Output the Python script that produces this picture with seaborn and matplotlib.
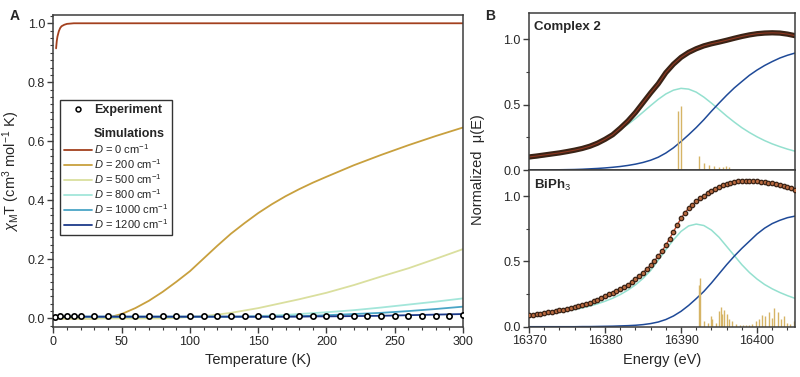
import numpy as np
import pandas as pd
import matplotlib
matplotlib.use("Agg")
import matplotlib.pyplot as plt
import seaborn as sns
from matplotlib.lines import Line2D
from matplotlib.ticker import MultipleLocator

sns.set_style("ticks")
plt.rcParams['font.family'] = ['Liberation Sans', 'DejaVu Sans']
plt.rcParams['mathtext.fontset'] = 'custom'
plt.rcParams['mathtext.rm'] = 'Liberation Sans'
plt.rcParams['mathtext.it'] = 'Liberation Sans:italic'

# --- panel A data: chi_M T vs temperature ---
t_d0 = [2, 2.5, 3, 4, 5, 6, 8, 10, 15, 20, 50, 100, 200, 300]
chi_d0 = [0.915, 0.94, 0.955, 0.973, 0.984, 0.99, 0.995, 0.998, 1.0, 1.0, 1.0, 1.0, 1.0, 1.0]

t_sim = [2, 10, 20, 30, 40, 50, 60, 70, 80, 90, 100, 110, 120, 130, 140, 150,
         160, 170, 180, 190, 200, 220, 240, 260, 280, 300]
chi_d200 = [0, 0, 0, 0, 0.003, 0.015, 0.035, 0.06, 0.09, 0.124, 0.16, 0.203, 0.246,
            0.287, 0.323, 0.357, 0.387, 0.414, 0.438, 0.46, 0.48, 0.519, 0.554, 0.587,
            0.618, 0.647]
chi_d500 = [0, 0, 0, 0, 0, 0, 0, 0, 0, 0.002, 0.005, 0.008, 0.013, 0.019, 0.027, 0.035,
            0.045, 0.055, 0.065, 0.076, 0.087, 0.113, 0.142, 0.17, 0.202, 0.235]
chi_d800 = [0.006, 0.006, 0.006, 0.006, 0.006, 0.006, 0.006, 0.006, 0.006, 0.006, 0.006,
            0.006, 0.006, 0.006, 0.007, 0.008, 0.01, 0.012, 0.015, 0.018, 0.021, 0.028,
            0.037, 0.047, 0.057, 0.068]
chi_d1000 = [0.006, 0.006, 0.006, 0.006, 0.006, 0.006, 0.006, 0.006, 0.006, 0.006, 0.006,
             0.006, 0.006, 0.006, 0.006, 0.006, 0.006, 0.007, 0.008, 0.009, 0.011, 0.015,
             0.019, 0.025, 0.032, 0.04]
chi_d1200 = [0.006, 0.006, 0.006, 0.006, 0.006, 0.006, 0.006, 0.006, 0.006, 0.006, 0.006,
             0.006, 0.006, 0.006, 0.006, 0.006, 0.006, 0.006, 0.006, 0.007, 0.007, 0.008,
             0.009, 0.011, 0.013, 0.015]

t_exp = [1, 5, 10, 15, 20, 30, 40, 50, 60, 70, 80, 90, 100, 110, 120, 130, 140, 150,
         160, 170, 180, 190, 200, 210, 220, 230, 240, 250, 260, 270, 280, 290, 300]
chi_exp = [0.006, 0.007, 0.007, 0.007, 0.007, 0.007, 0.007, 0.007, 0.007, 0.007, 0.007,
           0.007, 0.007, 0.007, 0.007, 0.007, 0.007, 0.007, 0.007, 0.007, 0.007, 0.007,
           0.008, 0.008, 0.008, 0.008, 0.009, 0.009, 0.009, 0.01, 0.01, 0.01, 0.011]

sim_labels = ["0", "200", "500", "800", "1000", "1200"]
sim_colors = ["#a3401e", "#c8a03e", "#dadf9e", "#a3e6da", "#4aa5c6", "#1c3a8a"]

# --- panel B data: normalized XANES ---
e_grid = list(range(16370, 16406))
c2_data = [0.10, 0.107, 0.115, 0.123, 0.131, 0.141, 0.152, 0.165, 0.182, 0.205, 0.235,
           0.27, 0.32, 0.375, 0.44, 0.515, 0.59, 0.66, 0.745, 0.81, 0.862, 0.9, 0.928,
           0.95, 0.966, 0.979, 0.993, 1.008, 1.022, 1.034, 1.043, 1.048, 1.05, 1.048,
           1.04, 1.028]
c2_peak = [0.087, 0.094, 0.103, 0.113, 0.125, 0.138, 0.154, 0.171, 0.191, 0.215, 0.241,
           0.273, 0.309, 0.349, 0.394, 0.443, 0.493, 0.541, 0.582, 0.611, 0.625, 0.619,
           0.596, 0.558, 0.512, 0.463, 0.413, 0.367, 0.324, 0.287, 0.254, 0.225, 0.2,
           0.179, 0.16, 0.144]
c2_edge = [0.0, 0.0, 0.0, 0.001, 0.002, 0.003, 0.004, 0.006, 0.009, 0.012, 0.016, 0.021,
           0.027, 0.035, 0.045, 0.058, 0.075, 0.098, 0.13, 0.17, 0.218, 0.27, 0.325,
           0.385, 0.45, 0.512, 0.572, 0.628, 0.677, 0.725, 0.765, 0.8, 0.83, 0.857,
           0.878, 0.895]
c2_stick_e = [16389.6, 16389.95, 16392.4, 16393.0, 16393.7, 16394.3, 16395.0, 16395.5,
              16395.9, 16396.3]
c2_stick_h = [0.45, 0.49, 0.105, 0.05, 0.04, 0.033, 0.023, 0.022, 0.028, 0.026]

e_half = [16370 + 0.5 * i for i in range(71)]
bi_data = [0.087, 0.091, 0.095, 0.100, 0.105, 0.110, 0.115, 0.120, 0.125, 0.130, 0.136,
           0.142, 0.149, 0.156, 0.164, 0.172, 0.183, 0.194, 0.207, 0.220, 0.233, 0.247,
           0.261, 0.276, 0.290, 0.305, 0.322, 0.342, 0.365, 0.390, 0.415, 0.443, 0.473,
           0.505, 0.540, 0.580, 0.625, 0.675, 0.728, 0.780, 0.830, 0.873, 0.907, 0.935,
           0.960, 0.983, 1.004, 1.022, 1.040, 1.055, 1.070, 1.084, 1.095, 1.103, 1.109,
           1.113, 1.116, 1.117, 1.117, 1.116, 1.114, 1.111, 1.108, 1.104, 1.100, 1.095,
           1.088, 1.080, 1.070, 1.060, 1.050]
bi_peak = [0.085, 0.091, 0.098, 0.105, 0.113, 0.122, 0.132, 0.144, 0.158, 0.175, 0.195,
           0.218, 0.246, 0.28, 0.32, 0.37, 0.43, 0.51, 0.59, 0.665, 0.73, 0.772, 0.786,
           0.775, 0.74, 0.685, 0.615, 0.545, 0.475, 0.415, 0.365, 0.323, 0.29, 0.262,
           0.238, 0.217]
bi_edge = [0, 0, 0, 0, 0, 0, 0, 0.001, 0.001, 0.002, 0.003, 0.004, 0.006, 0.008, 0.011,
           0.016, 0.024, 0.036, 0.055, 0.082, 0.118, 0.163, 0.215, 0.27, 0.335, 0.405,
           0.475, 0.54, 0.6, 0.655, 0.71, 0.755, 0.79, 0.815, 0.835, 0.847]
bi_stick_e = [16392.3, 16392.5, 16393.0, 16393.5, 16393.9, 16394.1, 16394.6, 16395.0,
              16395.2, 16395.4, 16395.7, 16396.1, 16396.3, 16396.75, 16397.2, 16397.7,
              16398.1, 16398.5, 16398.9, 16399.4, 16399.8, 16400.3, 16400.7, 16401.1,
              16401.6, 16402.0, 16402.2, 16402.7, 16403.1, 16403.6, 16404.0, 16404.4,
              16404.9]
bi_stick_h = [0.32, 0.37, 0.04, 0.03, 0.08, 0.06, 0.03, 0.12, 0.15, 0.1, 0.13, 0.1, 0.06,
              0.04, 0.02, 0.015, 0.01, 0.012, 0.01, 0.02, 0.04, 0.06, 0.09, 0.08, 0.11,
              0.07, 0.14, 0.11, 0.06, 0.08, 0.03, 0.02, 0.04]

RED = "#c8472a"
DARK = "#3a2316"
CYAN = "#94e0cf"
BLUE = "#1f4a98"
GOLD = "#d6b466"
SPINE = "#3c3c3c"

fig = plt.figure(figsize=(8, 3.77), dpi=100)
axA = fig.add_axes([0.0667, 0.1318, 0.5121, 0.8276])
axB1 = fig.add_axes([0.6613, 0.549, 0.3325, 0.416])
axB2 = fig.add_axes([0.6613, 0.1334, 0.3325, 0.4156])


def style_axis(ax):
    for sp in ax.spines.values():
        sp.set_visible(True)
        sp.set_color(SPINE)
        sp.set_linewidth(1.1)
    ax.tick_params(which='major', direction='out', length=4, width=1, color=SPINE,
                   labelsize=9, pad=2)
    ax.tick_params(which='minor', direction='out', length=2, width=0.8, color=SPINE)


# --- panel A ---
sim_series = [chi_d200, chi_d500, chi_d800, chi_d1000, chi_d1200]
sns.lineplot(x=t_d0, y=chi_d0, ax=axA, color=sim_colors[0], lw=1.3)
for vals, col in zip(sim_series, sim_colors[1:]):
    sns.lineplot(x=t_sim, y=vals, ax=axA, color=col, lw=1.3)
axA.plot(t_exp, chi_exp, ls='none', marker='o', ms=3.8, mfc='white', mec='black',
         mew=1.2, zorder=5)

axA.set_xlim(0, 300)
axA.set_ylim(-0.03, 1.027)
axA.xaxis.set_major_locator(MultipleLocator(50))
axA.xaxis.set_minor_locator(MultipleLocator(10))
axA.yaxis.set_major_locator(MultipleLocator(0.2))
axA.yaxis.set_minor_locator(MultipleLocator(0.025))
axA.yaxis.set_major_formatter(plt.FormatStrFormatter('%.1f'))
style_axis(axA)
axA.set_xlabel("Temperature (K)", fontsize=10.5, labelpad=4)
axA.set_ylabel(r"$\chi_{\rm M}$T (cm$^3$ mol$^{-1}$ K)", fontsize=10.5, labelpad=4)

handles = [Line2D([], [], ls='none', marker='o', ms=3.5, mfc='white', mec='black', mew=1.1),
           Line2D([], [], ls='none'),
           Line2D([], [], ls='none')]
labels = ["Experiment", "", "Simulations"]
for lab, col in zip(sim_labels, sim_colors):
    handles.append(Line2D([], [], color=col, lw=1.3))
    labels.append(r"$D$ = " + lab + r" cm$^{-1}$")
leg = axA.legend(handles, labels, loc='upper left', bbox_to_anchor=(0.016, 0.729),
                 borderaxespad=0, fontsize=8, frameon=True, fancybox=False,
                 handlelength=2.5, handletextpad=0.2, labelspacing=0.12,
                 borderpad=0.35)
leg.get_frame().set_edgecolor('black')
leg.get_frame().set_linewidth(1.0)
for i in (0, 2):
    leg.get_texts()[i].set_fontweight('bold')
    leg.get_texts()[i].set_fontsize(9)

# --- panel B top: Complex 2 ---
sns.lineplot(x=e_grid, y=c2_peak, ax=axB1, color=CYAN, lw=1.1)
sns.lineplot(x=e_grid, y=c2_edge, ax=axB1, color=BLUE, lw=1.1)
axB1.vlines(c2_stick_e, 0, c2_stick_h, color=GOLD, lw=1.0)
sns.lineplot(x=e_grid, y=c2_data, ax=axB1, color=DARK, lw=3.8)
sns.lineplot(x=e_grid, y=c2_data, ax=axB1, color=RED, lw=0.8, alpha=0.6)
axB1.text(0.02, 0.95, "Complex 2", transform=axB1.transAxes, fontsize=9.5,
          fontweight='bold', va='top', ha='left')

# --- panel B bottom: BiPh3 ---
sns.lineplot(x=e_grid, y=bi_peak, ax=axB2, color=CYAN, lw=1.1)
sns.lineplot(x=e_grid, y=bi_edge, ax=axB2, color=BLUE, lw=1.1)
axB2.vlines(bi_stick_e, 0, bi_stick_h, color=GOLD, lw=1.0)
axB2.plot(e_half, bi_data, ls='none', marker='o', ms=3.2, mfc='#b8693f', mec=DARK,
          mew=0.9, zorder=4)
sns.lineplot(x=e_half, y=bi_data, ax=axB2, color=RED, lw=1.0)
axB2.text(0.02, 0.95, r"BiPh$_3$", transform=axB2.transAxes, fontsize=9.5,
          fontweight='bold', va='top', ha='left')

for ax in (axB1, axB2):
    ax.set_xlim(16370, 16405)
    ax.set_ylim(0, 1.2)
    ax.xaxis.set_major_locator(MultipleLocator(10))
    ax.xaxis.set_minor_locator(MultipleLocator(2))
    ax.yaxis.set_major_locator(MultipleLocator(0.5))
    ax.yaxis.set_minor_locator(MultipleLocator(0.25))
    ax.yaxis.set_major_formatter(plt.FormatStrFormatter('%.1f'))
    style_axis(ax)
    ax.set_ylabel("")
axB1.tick_params(axis='x', which='both', bottom=False, labelbottom=False)
axB2.set_xlabel("Energy (eV)", fontsize=10.5, labelpad=4)
axB2.xaxis.set_major_formatter(plt.FormatStrFormatter('%d'))

fig.text(0.597, 0.549, "Normalized  μ(E)", rotation=90, fontsize=10.5,
         va='center', ha='center')
fig.text(0.012, 0.975, "A", fontsize=10, fontweight='bold', va='top')
fig.text(0.607, 0.975, "B", fontsize=10, fontweight='bold', va='top')

fig.savefig("out.png", dpi=100)
